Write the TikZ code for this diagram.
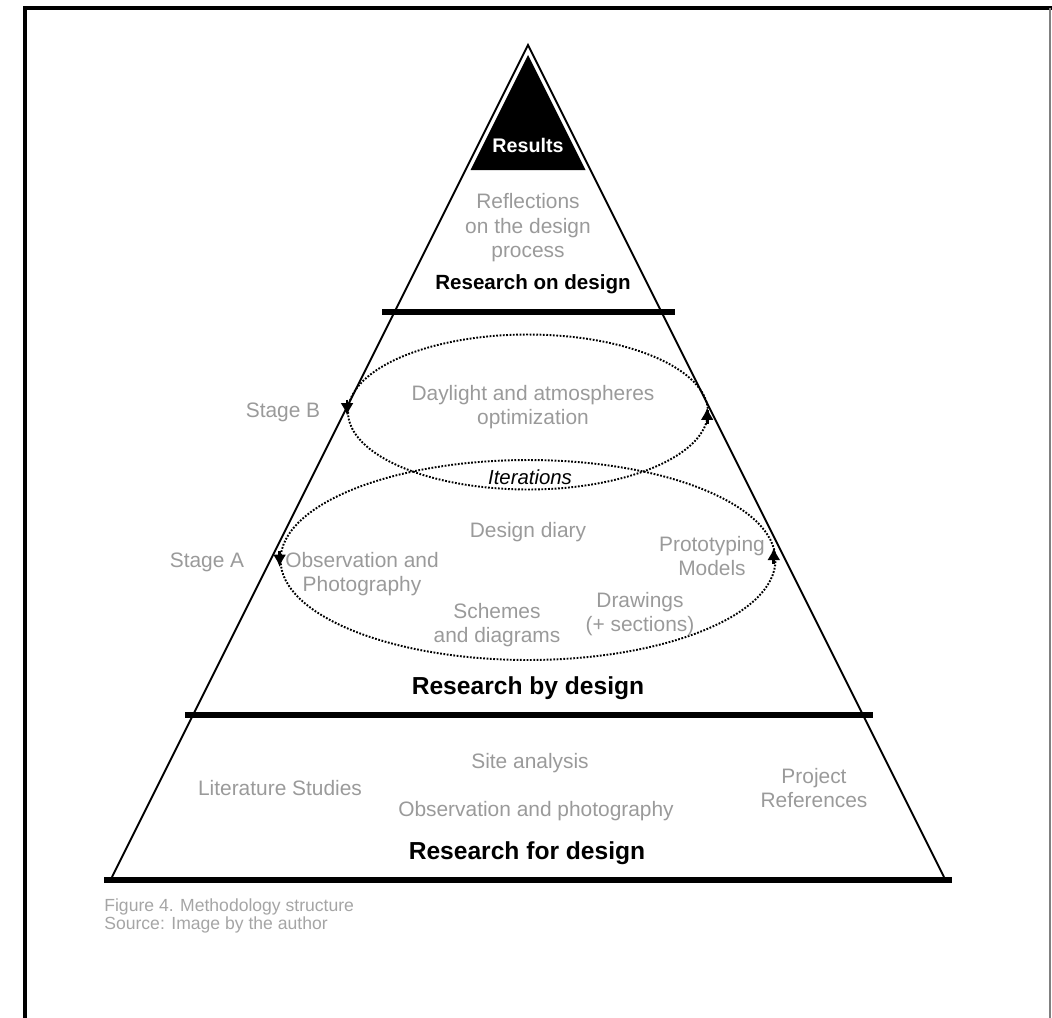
\documentclass[tikz,border=0pt]{standalone}
\usepackage{fontspec}
\setmainfont{Liberation Sans}
\usetikzlibrary{arrows.meta,shapes.geometric}
\definecolor{softgray}{HTML}{9A9A9A}
\definecolor{capgray}{HTML}{A5A5A5}
\begin{document}
\begin{tikzpicture}[x=0.02cm,y=-0.02cm]
    \tikzstyle{note}=[text=softgray,align=center,inner sep=0pt,font=\fontsize{11.9}{13.9}\selectfont]
    \tikzstyle{tier}=[inner sep=0pt,font=\bfseries\fontsize{14}{16}\selectfont]
    \tikzstyle{subtier}=[inner sep=0pt,font=\bfseries\fontsize{11.7}{14}\selectfont]
    \tikzstyle{divider}=[line width=3pt]
    \tikzstyle{orbit}=[ellipse,draw,line width=1.1pt,dash pattern=on 1pt off 0.9pt,inner sep=0pt]
    \tikzstyle{flowtip}=[-{Latex[length=7pt,width=7.5pt]},line width=1.6pt]

    \useasboundingbox (0,0) rectangle (1052,1018);
    \draw[line width=1.8pt] (25,1018) -- (25,8) -- (1052,8);
    \draw[gray,line width=0.8pt] (1050,8) -- (1050,1018);

    \draw[line width=1.1pt] (112,877) -- (528,45) -- (944,877);
    \fill (528,55) -- (585.5,170) -- (470.5,170) -- cycle;
    \draw[divider] (382,312) -- (675,312);
    \draw[divider] (185,715) -- (873,715);
    \draw[divider,line width=3.5pt] (104,880) -- (952,880);

    \node[orbit,minimum width=7.2cm,minimum height=3.1cm] (stageB) at (528,412) {};
    \node[orbit,minimum width=9.9cm,minimum height=4cm] (stageA) at (528,560) {};

    \draw[flowtip] ([yshift=7pt]stageB.west) -- ([yshift=-2pt]stageB.west);
    \draw[flowtip] ([xshift=-1pt,yshift=-7pt]stageB.east) -- ([xshift=-1pt,yshift=2.5pt]stageB.east);
    \draw[flowtip] ([yshift=5pt]stageA.west) -- ([yshift=-4pt]stageA.west);
    \draw[flowtip] ([xshift=-1.5pt,yshift=-2pt]stageA.east) -- ([xshift=-1.5pt,yshift=7pt]stageA.east);

    \node[subtier,text=white,font=\bfseries\fontsize{11.2}{13}\selectfont] (results) at (528,145) {Results};
    \node[note] (reflect) at (528,228) {Reflections\\on the design\\process};
    \node[subtier] (onDesign) at (533,284) {Research on design};

    \node[note] (stageBtxt) at (283,412) {Stage B};
    \node[note] (daylight) at (533,407) {Daylight and atmospheres\\optimization};
    \node[note,text=black,font=\itshape\fontsize{11.6}{13.9}\selectfont] (iter) at (530,477) {Iterations};

    \node[note] (diary) at (528,532) {Design diary};
    \node[note] (stageAtxt) at (207,562) {Stage A};
    \node[note] (observe) at (362,574) {Observation and\\Photography};
    \node[note] (proto) at (712,556) {Prototyping\\Models};
    \node[note] (schemes) at (497,625) {Schemes\\and diagrams};
    \node[note] (drawings) at (640,614) {Drawings\\(+ sections)};
    \node[tier] (byDesign) at (528,688) {Research by design};

    \node[note] (site) at (530,763) {Site analysis};
    \node[note] (lit) at (280,788) {Literature Studies};
    \node[note] (obsPhoto) at (536,811) {Observation and photography};
    \node[note] (refs) at (814,788) {Project\\References};
    \node[tier] (forDesign) at (527,853) {Research for design};

    \node[note,text=capgray,anchor=west,align=left,font=\fontsize{10}{10.3}\selectfont] (caption) at (104,916) {Figure 4. Methodology structure\\Source: Image by the author};
  \end{tikzpicture}
\end{document}
